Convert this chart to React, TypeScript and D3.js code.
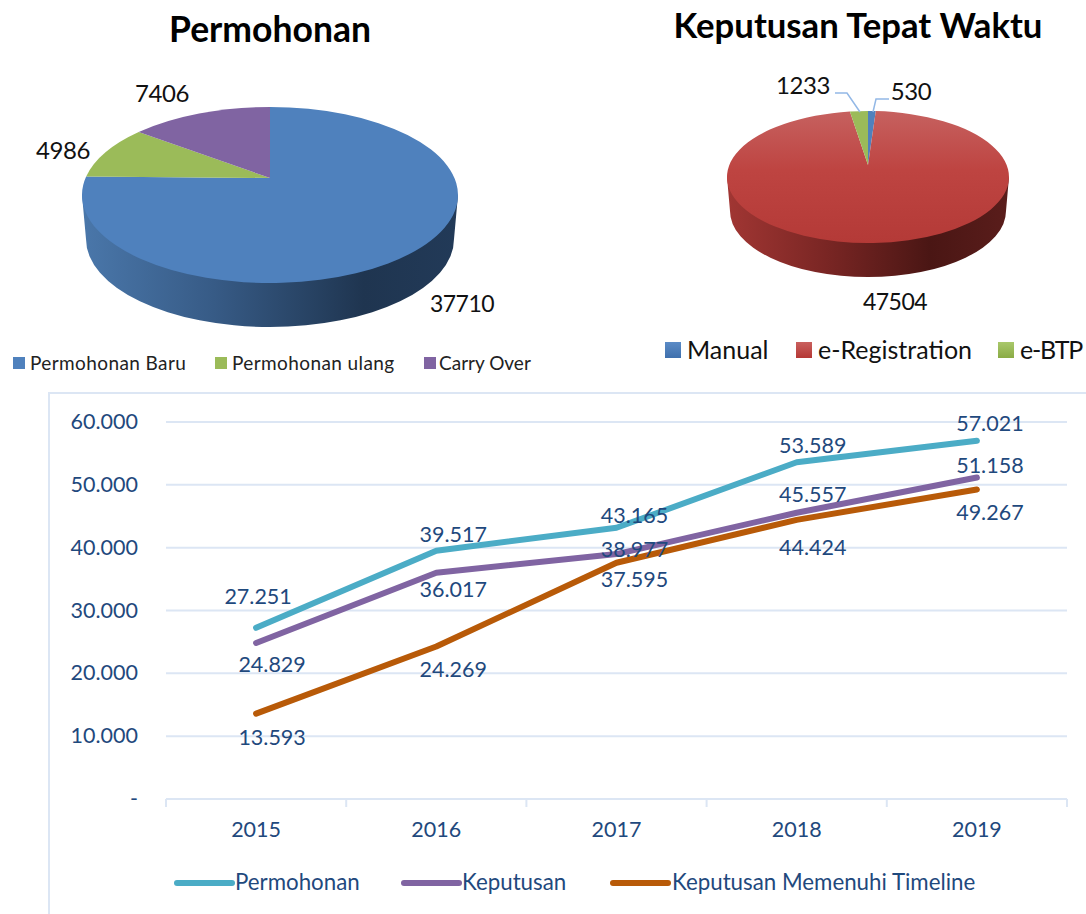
import React from "react";
import * as d3 from "d3";

const FONT = "Lato, Carlito, 'Open Sans', sans-serif";
const requestNames = ["Permohonan Baru", "Permohonan ulang", "Carry Over"];
const requestValues = [37710, 4986, 7406];
const decisionNames = ["Manual", "e-Registration", "e-BTP"];
const decisionValues = [530, 47504, 1233];
const years = ["2015", "2016", "2017", "2018", "2019"];
const permohonan = [27251, 39517, 43165, 53589, 57021];
const keputusan = [24829, 36017, 38977, 45557, 51158];
const memenuhi = [13593, 24269, 37595, 44424, 49267];
const yTicks = [0, 10000, 20000, 30000, 40000, 50000, 60000];

const fmt = (v: number) => (v === 0 ? "-" : d3.format(",")(v).replace(/,/g, "."));

// label placement, as offsets from each point (styling, not data)
const permOffsets = [[2, -32], [17, -17], [18, -13], [16, -17], [13, -18]];
const kepOffsets = [[16, 21], [17, 16], [18, -5], [16, -19], [13, -13]];
const memOffsets = [[16, 23], [17, 22], [18, 16], [16, 27], [13, 23]];

type PieGeom = { cx: number; cy: number; rx: number; ry: number; ax: number; ay: number; depth: number; inset: number };

function rimPoint(g: PieGeom, angle: number): [number, number] {
  const k = g.ry / g.rx;
  const dx = Math.sin(angle);
  const dy = -Math.cos(angle) * k;
  const ox = g.ax - g.cx;
  const oy = g.ay - g.cy;
  const A = (dx * dx) / (g.rx * g.rx) + (dy * dy) / (g.ry * g.ry);
  const B = 2 * ((ox * dx) / (g.rx * g.rx) + (oy * dy) / (g.ry * g.ry));
  const C = (ox * ox) / (g.rx * g.rx) + (oy * oy) / (g.ry * g.ry) - 1;
  const t = (-B + Math.sqrt(B * B - 4 * A * C)) / (2 * A);
  return [g.ax + t * dx, g.ay + t * dy];
}

function slicePath(g: PieGeom, a0: number, a1: number): string {
  const [x0, y0] = rimPoint(g, a0);
  const [x1, y1] = rimPoint(g, a1);
  const large = a1 - a0 > Math.PI ? 1 : 0;
  return `M${g.ax},${g.ay}L${x0},${y0}A${g.rx},${g.ry} 0 ${large} 1 ${x1},${y1}Z`;
}

function sidePath(g: PieGeom): string {
  const rb = g.rx - g.inset;
  const yb = g.cy + g.depth;
  return `M${g.cx - g.rx},${g.cy}L${g.cx - rb},${yb}A${rb},${g.ry} 0 0 0 ${g.cx + rb},${yb}L${g.cx + g.rx},${g.cy}Z`;
}

function Pie3D({ geom, values, fills, side }: { geom: PieGeom; values: number[]; fills: string[]; side: string }) {
  const arcs = d3.pie<number>().sort(null)(values);
  return (
    <g>
      <path d={sidePath(geom)} fill={side} />
      {arcs.map((a, i) => (
        <path key={i} d={slicePath(geom, a.startAngle, a.endAngle)} fill={fills[i]} />
      ))}
    </g>
  );
}

const leftGeom: PieGeom = { cx: 270, cy: 195, rx: 188, ry: 88, ax: 270, ay: 178, depth: 44, inset: 4 };
const rightGeom: PieGeom = { cx: 868, cy: 177, rx: 141, ry: 66, ax: 868, ay: 165, depth: 34, inset: 3 };

function Txt({ x, y, size, anchor, weight, fill, spacing, children }: any) {
  return (
    <text x={x} y={y} fontSize={size} textAnchor={anchor ?? "start"} fontWeight={weight ?? 400} fill={fill ?? "#111"} fontFamily={FONT} letterSpacing={spacing ?? 0} dominantBaseline="central">
      {children}
    </text>
  );
}

export default function App() {
  const x = d3.scaleBand<string>().domain(years).range([166, 1067]);
  const y = d3.scaleLinear().domain([0, 60000]).range([799, 422]);
  const cx = (i: number) => (x(years[i]) as number) + x.bandwidth() / 2;
  const line = d3.line<number>().x((_, i) => cx(i)).y((d) => y(d));
  const NAVY = "#1f497d";
  const GRID = "#dce6f4";
  const series = [
    { name: "Permohonan", values: permohonan, color: "#4bacc6", offs: permOffsets, lx: 177, tx: 235 },
    { name: "Keputusan", values: keputusan, color: "#8064a2", offs: kepOffsets, lx: 404, tx: 462 },
    { name: "Keputusan Memenuhi Timeline", values: memenuhi, color: "#b85a08", offs: memOffsets, lx: 613, tx: 672 },
  ];
  const leftLegend = [
    { sq: 13, tx: 30, c: "#4f81bd", sp: 0.4 },
    { sq: 215, tx: 232, c: "#9bbb59", sp: 0.4 },
    { sq: 424, tx: 439, c: "#8064a2", sp: 0 },
  ];
  const rightLegend = [
    { sq: 665, tx: 687, c: "url(#lgB)", sp: 0 },
    { sq: 796, tx: 818, c: "url(#lgR)", sp: 0 },
    { sq: 998, tx: 1020, c: "url(#lgG)", sp: -1.2 },
  ];
  return (
    <svg width={1086} height={914} style={{ position: "absolute", left: 0, top: 0, display: "block", background: "#fff" }}>
      <defs>
        <linearGradient id="sideBlue" x1="0" x2="1" y1="0" y2="0">
          <stop offset="0" stopColor="#4a77aa" />
          <stop offset="0.35" stopColor="#375b86" />
          <stop offset="0.75" stopColor="#1f3550" />
          <stop offset="1" stopColor="#223a58" />
        </linearGradient>
        <linearGradient id="sideRed" x1="0" x2="1" y1="0" y2="0">
          <stop offset="0" stopColor="#a13633" />
          <stop offset="0.35" stopColor="#7a2624" />
          <stop offset="0.72" stopColor="#4a1614" />
          <stop offset="1" stopColor="#5a1d1b" />
        </linearGradient>
        <linearGradient id="topRed" x1="0" x2="0" y1="0" y2="1">
          <stop offset="0" stopColor="#c6615f" />
          <stop offset="0.45" stopColor="#be4441" />
          <stop offset="1" stopColor="#b43a37" />
        </linearGradient>
        <linearGradient id="lgB" x1="0" x2="0" y1="0" y2="1">
          <stop offset="0" stopColor="#5b8bc6" />
          <stop offset="1" stopColor="#3f70ad" />
        </linearGradient>
        <linearGradient id="lgR" x1="0" x2="0" y1="0" y2="1">
          <stop offset="0" stopColor="#c9605e" />
          <stop offset="1" stopColor="#b53835" />
        </linearGradient>
        <linearGradient id="lgG" x1="0" x2="0" y1="0" y2="1">
          <stop offset="0" stopColor="#a9c86b" />
          <stop offset="1" stopColor="#8aab45" />
        </linearGradient>
      </defs>

      <Txt x={270} y={28} size={35.5} anchor="middle" weight={700} fill="#000">Permohonan</Txt>
      <Txt x={858} y={24} size={34.7} anchor="middle" weight={700} fill="#000">Keputusan Tepat Waktu</Txt>

      <Pie3D geom={leftGeom} values={requestValues} fills={["#4f81bd", "#9bbb59", "#8064a2"]} side="url(#sideBlue)" />
      <Pie3D geom={rightGeom} values={decisionValues} fills={["#4f81bd", "url(#topRed)", "#9bbb59"]} side="url(#sideRed)" />

      <polyline points="835,93 847,93 860,112" fill="none" stroke="#93b8e6" strokeWidth={1.5} />
      <polyline points="889,99 876,99 873,112" fill="none" stroke="#93b8e6" strokeWidth={1.5} />

      <Txt x={162} y={92} size={24} spacing={-0.4} anchor="middle">{requestValues[2]}</Txt>
      <Txt x={63} y={149} size={24} spacing={-0.4} anchor="middle">{requestValues[1]}</Txt>
      <Txt x={462} y={303} size={23} spacing={-0.5} anchor="middle">{requestValues[0]}</Txt>
      <Txt x={803} y={84} size={24} spacing={-0.4} anchor="middle">{decisionValues[2]}</Txt>
      <Txt x={911} y={90} size={24} spacing={-0.4} anchor="middle">{decisionValues[0]}</Txt>
      <Txt x={895} y={301} size={23} spacing={-0.5} anchor="middle">{decisionValues[1]}</Txt>

      {requestNames.map((n, i) => (
        <g key={n}>
          <rect x={leftLegend[i].sq} y={357} width={12} height={12} fill={leftLegend[i].c} />
          <Txt x={leftLegend[i].tx} y={362} size={19} spacing={leftLegend[i].sp} fill="#222">{n}</Txt>
        </g>
      ))}
      {decisionNames.map((n, i) => (
        <g key={n}>
          <rect x={rightLegend[i].sq} y={342} width={16} height={16} fill={rightLegend[i].c} />
          <Txt x={rightLegend[i].tx} y={349} size={25} spacing={rightLegend[i].sp} fill="#111">{n}</Txt>
        </g>
      ))}

      <path d="M49,914V393H1086" fill="none" stroke={GRID} strokeWidth={2} />

      {yTicks.map((t) => (
        <g key={t}>
          <line x1={166} x2={1067} y1={y(t)} y2={y(t)} stroke={GRID} strokeWidth={2} />
          <Txt x={138} y={y(t) - 1} size={21.5} anchor="end" fill={NAVY}>{fmt(t)}</Txt>
        </g>
      ))}
      {[...years.map((yr) => x(yr) as number), 1067].map((tx, i) => (
        <line key={i} x1={tx} x2={tx} y1={799} y2={807} stroke={GRID} strokeWidth={2} />
      ))}
      {years.map((yr, i) => (
        <Txt key={yr} x={cx(i)} y={829} size={21.5} anchor="middle" fill={NAVY}>{yr}</Txt>
      ))}

      {series.map((s) => (
        <path key={s.name} d={line(s.values) ?? ""} fill="none" stroke={s.color} strokeWidth={6} strokeLinecap="round" strokeLinejoin="round" />
      ))}
      {series.map((s) =>
        s.values.map((v, i) => (
          <Txt key={s.name + i} x={cx(i) + s.offs[i][0]} y={y(v) + s.offs[i][1]} size={21.5} anchor="middle" fill={NAVY}>{fmt(v)}</Txt>
        ))
      )}

      {series.map((s) => (
        <g key={s.name}>
          <line x1={s.lx} x2={s.lx + 55} y1={883} y2={883} stroke={s.color} strokeWidth={6} strokeLinecap="round" />
          <Txt x={s.tx} y={881} size={22.3} fill={NAVY}>{s.name}</Txt>
        </g>
      ))}
    </svg>
  );
}
